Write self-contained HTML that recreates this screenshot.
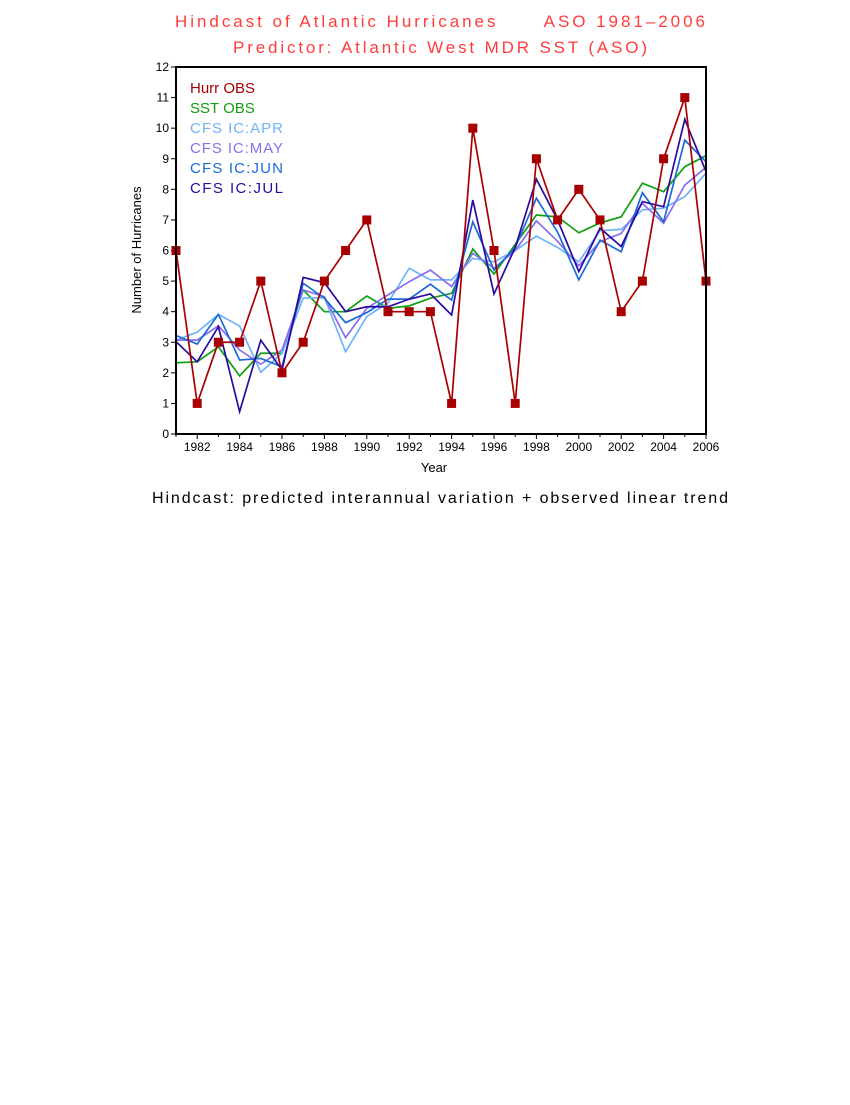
<!DOCTYPE html>
<html><head><meta charset="utf-8"><style>
body{margin:0;background:#fff;width:850px;height:1100px;overflow:hidden}
text{font-family:"Liberation Sans",sans-serif}
</style></head><body>
<svg id="chart" width="850" height="1100">
<text x="175" y="27" textLength="530" lengthAdjust="spacing" font-size="17" fill="#ff3c3c" xml:space="preserve">Hindcast of Atlantic Hurricanes      ASO 1981–2006</text>
<text x="233" y="53" textLength="414" lengthAdjust="spacing" font-size="17" fill="#ff3c3c">Predictor: Atlantic West MDR SST (ASO)</text>
<text x="152" y="503" textLength="576" lengthAdjust="spacing" font-size="16" fill="#000">Hindcast: predicted interannual variation + observed linear trend</text>
<text x="434" y="472" text-anchor="middle" font-size="13">Year</text>
<text transform="translate(141,250) rotate(-90)" text-anchor="middle" font-size="13">Number of Hurricanes</text>
<g id="plot"></g>
<rect x="176" y="67" width="530" height="367" fill="none" stroke="#000" stroke-width="2"/>
</svg>
<script>
const years=[1981,1982,1983,1984,1985,1986,1987,1988,1989,1990,1991,1992,1993,1994,1995,1996,1997,1998,1999,2000,2001,2002,2003,2004,2005,2006];
const hurrObs=[6,1,3,3,5,2,3,5,6,7,4,4,4,1,10,6,1,9,7,8,7,4,5,9,11,5];
const sstObs=[2.33,2.36,2.85,1.9,2.64,2.64,4.71,4.0,4.0,4.51,4.11,4.19,4.44,4.6,6.05,5.23,6.2,7.16,7.1,6.58,6.9,7.1,8.2,7.92,8.74,9.1];
const cfsApr=[3.07,3.33,3.91,3.53,2.02,2.64,4.44,4.46,2.69,3.84,4.29,5.42,5.04,5.04,5.74,5.63,6.0,6.47,6.1,5.63,6.65,6.69,7.33,7.38,7.76,8.53];
const cfsMay=[3.07,3.07,3.54,2.75,2.28,2.75,4.71,4.49,3.15,4.11,4.55,4.98,5.36,4.82,5.91,5.42,6.0,6.97,6.3,5.5,6.29,6.56,7.54,6.89,8.14,8.72];
const cfsJun=[3.22,2.94,3.91,2.42,2.47,2.2,4.93,4.44,3.64,3.97,4.41,4.41,4.9,4.38,6.94,5.36,6.1,7.71,6.6,5.04,6.34,5.96,7.89,6.94,9.61,8.9];
const cfsJul=[3.02,2.36,3.51,0.73,3.07,2.09,5.12,4.95,4.0,4.16,4.16,4.41,4.58,3.89,7.65,4.58,6.1,8.33,7.0,5.31,6.73,6.13,7.6,7.43,10.29,8.58];
const yTicks=[0,1,2,3,4,5,6,7,8,9,10,11,12];
const xTicks=[1982,1984,1986,1988,1990,1992,1994,1996,1998,2000,2002,2004,2006];
const legendLabels=["Hurr OBS","SST OBS","CFS IC:APR","CFS IC:MAY","CFS IC:JUN","CFS IC:JUL"];
const NS="http://www.w3.org/2000/svg";
const g=document.getElementById('plot');
const X0=176,X1=706,Y0=434,Y1=67;
const xs=y=>X0+(y-1981)/(2006-1981)*(X1-X0);
const ys=v=>Y0-v/12*(Y0-Y1);
function mk(t,a){const e=document.createElementNS(NS,t);for(const k in a)e.setAttribute(k,a[k]);g.appendChild(e);return e;}
yTicks.forEach(v=>{
 const t=mk('line',{x1:X0-5,x2:X0,y1:ys(v),y2:ys(v),stroke:'#000'});
 
 
 const l=mk('text',{x:X0-7,y:ys(v)+4,'text-anchor':'end','font-size':12});
 l.textContent=v;
 
 
});
years.forEach(y=>{
 const t=mk('line',{x1:xs(y),x2:xs(y),y1:Y0,y2:Y0+(xTicks.includes(y)?5:3),stroke:'#000'});
 
 
});
xTicks.forEach(y=>{
 const l=mk('text',{x:xs(y),y:Y0+17,'text-anchor':'middle','font-size':12});
 l.textContent=y;
 
 
});
const series=[[sstObs,'#10a010','sst-obs-line'],[cfsApr,'#70b4f8','cfs-apr-line'],[cfsMay,'#8a6ef0','cfs-may-line'],[cfsJun,'#1c6ad8','cfs-jun-line'],[cfsJul,'#2a0aa0','cfs-jul-line'],[hurrObs,'#a80000','hurr-obs-line']];
series.forEach(s=>{
 const p=mk('polyline',{points:s[0].map((v,i)=>xs(years[i])+','+ys(v)).join(' '),fill:'none',stroke:s[1],'stroke-width':1.7});
 
 
});
hurrObs.forEach((v,i)=>{
 const r=mk('rect',{x:xs(years[i])-4.5,y:ys(v)-4.5,width:9,height:9,fill:'#a80000'});
 
 
});
const lc=['#a80000','#10a010','#70b4f8','#8a6ef0','#1c6ad8','#2a0aa0'];
legendLabels.forEach((t,i)=>{
 const l=mk('text',{x:190,y:93+i*20,'font-size':15,fill:lc[i]});
 l.textContent=t;
 if(t.length>=10){l.setAttribute('textLength',93);}
 
 
});
</script>
</body></html>
